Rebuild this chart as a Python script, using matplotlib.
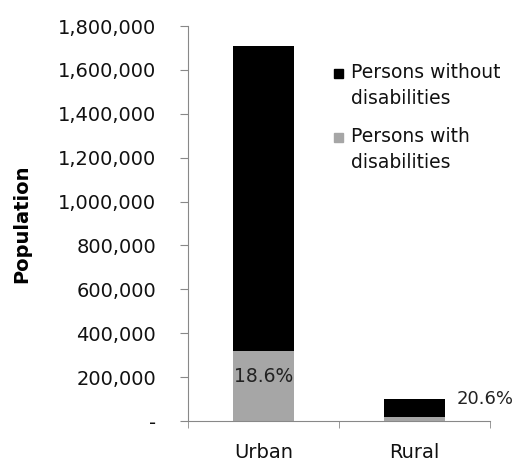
import matplotlib.pyplot as plt
from matplotlib.patches import Rectangle
from matplotlib.ticker import FuncFormatter
import numpy as np

categories = ["Urban", "Rural"]
with_disab = [320000, 18000]
without_disab = [1390000, 81000]
pct_labels = ["18.6%", "20.6%"]
legend_labels = ["Persons without\ndisabilities", "Persons with\ndisabilities"]

plt.rcParams["font.family"] = ["DejaVu Sans"]

fig = plt.figure(figsize=(5.22, 4.62), dpi=100)
ax = fig.add_axes([0.360, 0.0887, 0.5787, 0.855])

x = np.arange(len(categories))
ax.bar(x, with_disab, width=0.4, color="#a6a6a6")
ax.bar(x, without_disab, width=0.4, bottom=with_disab, color="black")

# percentage labels
ax.text(x[0], 205000, pct_labels[0], ha="center", va="center", fontsize=13.5, color="#222222")
ax.text(x[1] + 0.47, with_disab[1] + without_disab[1], pct_labels[1], ha="center", va="center",
        fontsize=13, color="#222222")

ax.set_xlim(-0.5, 1.5)
ax.set_ylim(0, 1800000)
ax.set_yticks(np.arange(0, 1800001, 200000))
ax.yaxis.set_major_formatter(FuncFormatter(lambda v, p: "-" if v == 0 else f"{int(v):,}"))
ax.set_xticks(x)
ax.set_xticklabels(categories)
ax.set_xticks([-0.5, 0.5, 1.5], minor=True)

ax.tick_params(axis="y", direction="out", length=6, color="#888888", labelsize=14, pad=17,
               labelcolor="#111111")
ax.tick_params(axis="x", which="major", length=0, labelsize=14, pad=15.5, labelcolor="#111111")
ax.tick_params(axis="x", which="minor", direction="out", length=5, color="#888888")

for side in ["top", "right"]:
    ax.spines[side].set_visible(False)
for side in ["left", "bottom"]:
    ax.spines[side].set_color("#888888")

ax.set_ylabel("Population", fontsize=14, fontweight="bold")
ax.yaxis.set_label_coords(-0.517, 0.5)

# legend drawn by hand so the marker sits on the first line
leg_colors = ["black", "#a6a6a6"]
leg_y = [73, 137]
for c, lab, yy in zip(leg_colors, legend_labels, leg_y):
    fy = 1 - yy / 462
    fig.patches.append(Rectangle((334 / 522, fy - 4.5 / 462), 9 / 522, 9 / 462,
                                 transform=fig.transFigure, color=c))
    fig.text(351 / 522, fy + 10 / 462, lab, ha="left", va="top", fontsize=13.5,
             color="#111111", linespacing=1.45)

fig.savefig("out.png", dpi=100)
